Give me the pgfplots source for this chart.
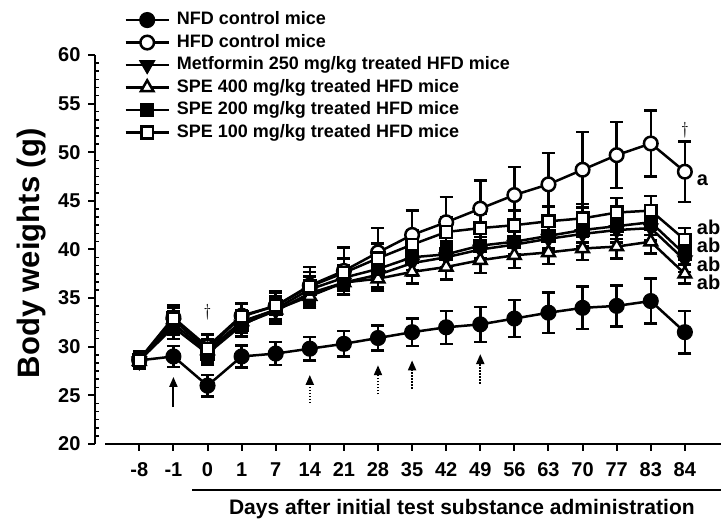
\documentclass[border=0pt]{standalone}
\usepackage{fontspec}
\setmainfont{Liberation Sans}
\usepackage{pgfplots}
\pgfplotsset{compat=1.18}
\usepackage{pgfplotstable}
\usetikzlibrary{arrows.meta}

% day index: 0..16 = -8,-1,0,1,7,14,21,28,35,42,49,56,63,70,77,83,84
\pgfplotstableread{
x  nfd  nfde hfd  hfde met  mete sa   sae  sb   sbe  sc   sce
0  28.6 0.8  28.7 0.8  28.5 0.7  28.5 0.8  28.6 0.8  28.6 0.8
1  29.0 1.1  33.0 1.2  32.4 1.2  32.8 1.2  32.0 1.2  32.9 1.4
2  26.0 1.1  30.0 1.3  29.4 1.2  29.6 1.2  29.3 1.2  29.8 1.4
3  29.0 1.15 33.2 1.2  32.3 1.2  32.6 1.2  32.2 1.2  33.1 1.4
4  29.3 1.2  34.2 1.4  33.7 1.3  33.8 1.2  33.9 1.3  34.2 1.5
5  29.8 1.2  36.3 1.9  35.5 1.3  35.2 1.2  35.9 1.3  36.2 1.5
6  30.3 1.3  37.8 2.4  36.6 1.3  36.6 1.2  37.1 1.3  37.6 1.5
7  30.9 1.3  39.7 2.5  37.4 1.3  37.0 1.2  38.0 1.3  39.1 1.5
8  31.5 1.4  41.5 2.5  38.6 1.3  37.7 1.2  39.2 1.3  40.5 1.5
9  32.0 1.7  42.8 2.6  39.2 1.3  38.2 1.3  39.5 1.3  41.8 1.5
10 32.3 1.8  44.2 2.9  40.0 1.3  38.9 1.3  40.4 1.3  42.2 1.5
11 32.9 1.9  45.6 2.9  40.5 1.3  39.4 1.3  40.8 1.3  42.5 1.5
12 33.5 2.1  46.7 3.2  41.1 1.3  39.7 1.2  41.4 1.3  42.9 1.5
13 34.0 2.2  48.2 3.9  41.6 1.3  40.1 1.2  42.0 1.3  43.2 1.5
14 34.2 2.1  49.7 3.4  42.0 1.3  40.3 1.2  42.4 1.3  43.8 1.5
15 34.7 2.3  50.9 3.4  42.2 1.3  40.8 1.2  42.8 1.3  44.0 1.5
16 31.5 2.2  48.0 3.1  38.9 1.2  37.5 1.0  39.5 1.1  41.0 1.2
}\datatable

\begin{document}
\begin{tikzpicture}
\path[use as bounding box] (0,0) rectangle (721pt,519pt);
\begin{axis}[
  at={(95pt,75pt)}, anchor=south west,
  scale only axis, width=626pt, height=389pt,
  xmin=-1.3, xmax=17.06, ymin=20, ymax=60,
  clip=false,
  axis x line*=bottom, axis y line*=left,
  axis line style={line width=2.5pt},
  x axis line style={draw=none},
  xtick={0,...,16},
  xticklabels={-8,-1,0,1,7,14,21,28,35,42,49,56,63,70,77,83,84},
  ytick={20,25,...,60},
  minor y tick num=5,
  tick align=outside,
  major tick length=7pt,
  minor tick length=4pt,
  major tick style={line width=2pt, black},
  minor tick style={line width=1.5pt, black},
  minor y tick style={xshift=4pt},
  /pgf/number format/assume math mode=true,
  tick label style={font=\fontsize{20}{20}\selectfont\bfseries},
  xticklabel style={yshift=-8pt},
  yticklabel style={xshift=-4pt},
  ylabel={Body weights (g)},
  ylabel style={font=\fontsize{31}{31}\selectfont\bfseries, at={(rel axis cs:-0.101,0.49)}, anchor=center},
  xlabel={Days after initial test substance administration},
  xlabel style={font=\fontsize{21}{21}\selectfont\bfseries, at={(axis cs:9.46,12.7)}, anchor=base},
  every axis plot/.append style={line width=2.5pt, black},
  error bars/error bar style={line width=2.5pt, black},
  error bars/error mark options={line width=2.5pt, mark size=6.5pt, rotate=90, black},
  legend style={at={(axis cs:-0.53,64.9)}, anchor=north west, draw=none, fill=none,
    font=\fontsize{18}{18}\selectfont\bfseries, row sep=1.5pt,
    nodes={inner sep=2pt, text height=13pt, text depth=4pt},
    /tikz/every odd column/.append style={column sep=5pt}},
  legend cell align=left,
  legend image code/.code={\draw[mark repeat=2,mark phase=2,#1] plot coordinates {(0pt,0pt) (21.5pt,0pt) (43pt,0pt)};},
]
\addplot[mark=*, mark size=6.8pt, mark options={fill=black, solid},
  error bars/.cd, y dir=both, y explicit]
  table[x=x, y=nfd, y error=nfde] {\datatable};
\addlegendentry{NFD control mice}
\addplot[mark=*, mark size=6.8pt, mark options={fill=white, solid},
  error bars/.cd, y dir=both, y explicit]
  table[x=x, y=hfd, y error=hfde] {\datatable};
\addlegendentry{HFD control mice}
\addplot[mark=triangle*, mark size=7.2pt, mark options={fill=black, solid, rotate=180},
  error bars/.cd, y dir=both, y explicit]
  table[x=x, y=met, y error=mete] {\datatable};
\addlegendentry{Metformin 250 mg/kg treated HFD mice}
\addplot[mark=triangle*, mark size=7.2pt, mark options={fill=white, solid},
  error bars/.cd, y dir=both, y explicit]
  table[x=x, y=sa, y error=sae] {\datatable};
\addlegendentry{SPE 400 mg/kg treated HFD mice}
\addplot[mark=square*, mark size=5.8pt, mark options={fill=black, solid},
  error bars/.cd, y dir=both, y explicit]
  table[x=x, y=sb, y error=sbe] {\datatable};
\addlegendentry{SPE 200 mg/kg treated HFD mice}
\addplot[mark=square*, mark size=5.8pt, mark options={fill=white, solid},
  error bars/.cd, y dir=both, y explicit]
  table[x=x, y=sc, y error=sce] {\datatable};
\addlegendentry{SPE 100 mg/kg treated HFD mice}

% underline of x label
\draw[line width=2.5pt] (axis cs:1.545,15.27) -- (axis cs:17.2,15.27);
% arrows
\draw[line width=2pt, -{Triangle[length=10pt,width=8pt]}] (axis cs:1,23.8) -- (axis cs:1,26.9);
\draw[line width=2pt, dash pattern=on 1.6pt off 1.4pt, -{Triangle[length=10pt,width=8pt]}] (axis cs:5,24.2) -- (axis cs:5,27.1);
\draw[line width=2pt, dash pattern=on 1.6pt off 1.4pt, -{Triangle[length=10pt,width=8pt]}] (axis cs:7,25.1) -- (axis cs:7,28.1);
\draw[line width=2pt, dash pattern=on 1.6pt off 1.4pt, -{Triangle[length=10pt,width=8pt]}] (axis cs:8,25.7) -- (axis cs:8,28.6);
\draw[line width=2pt, dash pattern=on 1.6pt off 1.4pt, -{Triangle[length=10pt,width=8pt]}] (axis cs:10,26.2) -- (axis cs:10,29.25);
% daggers
\node[font=\fontsize{17}{17}\selectfont] at (axis cs:2,33.6) {$\dagger$};
\node[font=\fontsize{17}{17}\selectfont] at (axis cs:16,52.3) {$\dagger$};
% group letters
\node[anchor=west, font=\fontsize{20}{20}\selectfont\bfseries, inner sep=0pt] at (axis cs:16.35,47.1) {a};
\node[anchor=west, font=\fontsize{20}{20}\selectfont\bfseries, inner sep=0pt] at (axis cs:16.35,42.3) {ab};
\node[anchor=west, font=\fontsize{20}{20}\selectfont\bfseries, inner sep=0pt] at (axis cs:16.35,40.4) {ab};
\node[anchor=west, font=\fontsize{20}{20}\selectfont\bfseries, inner sep=0pt] at (axis cs:16.35,38.5) {ab};
\node[anchor=west, font=\fontsize{20}{20}\selectfont\bfseries, inner sep=0pt] at (axis cs:16.35,36.6) {ab};
\end{axis}
% x axis line (starts a little right of the y axis)
\draw[line width=2.5pt, black] (105pt,75pt) -- (722pt,75pt);
\end{tikzpicture}
\end{document}
